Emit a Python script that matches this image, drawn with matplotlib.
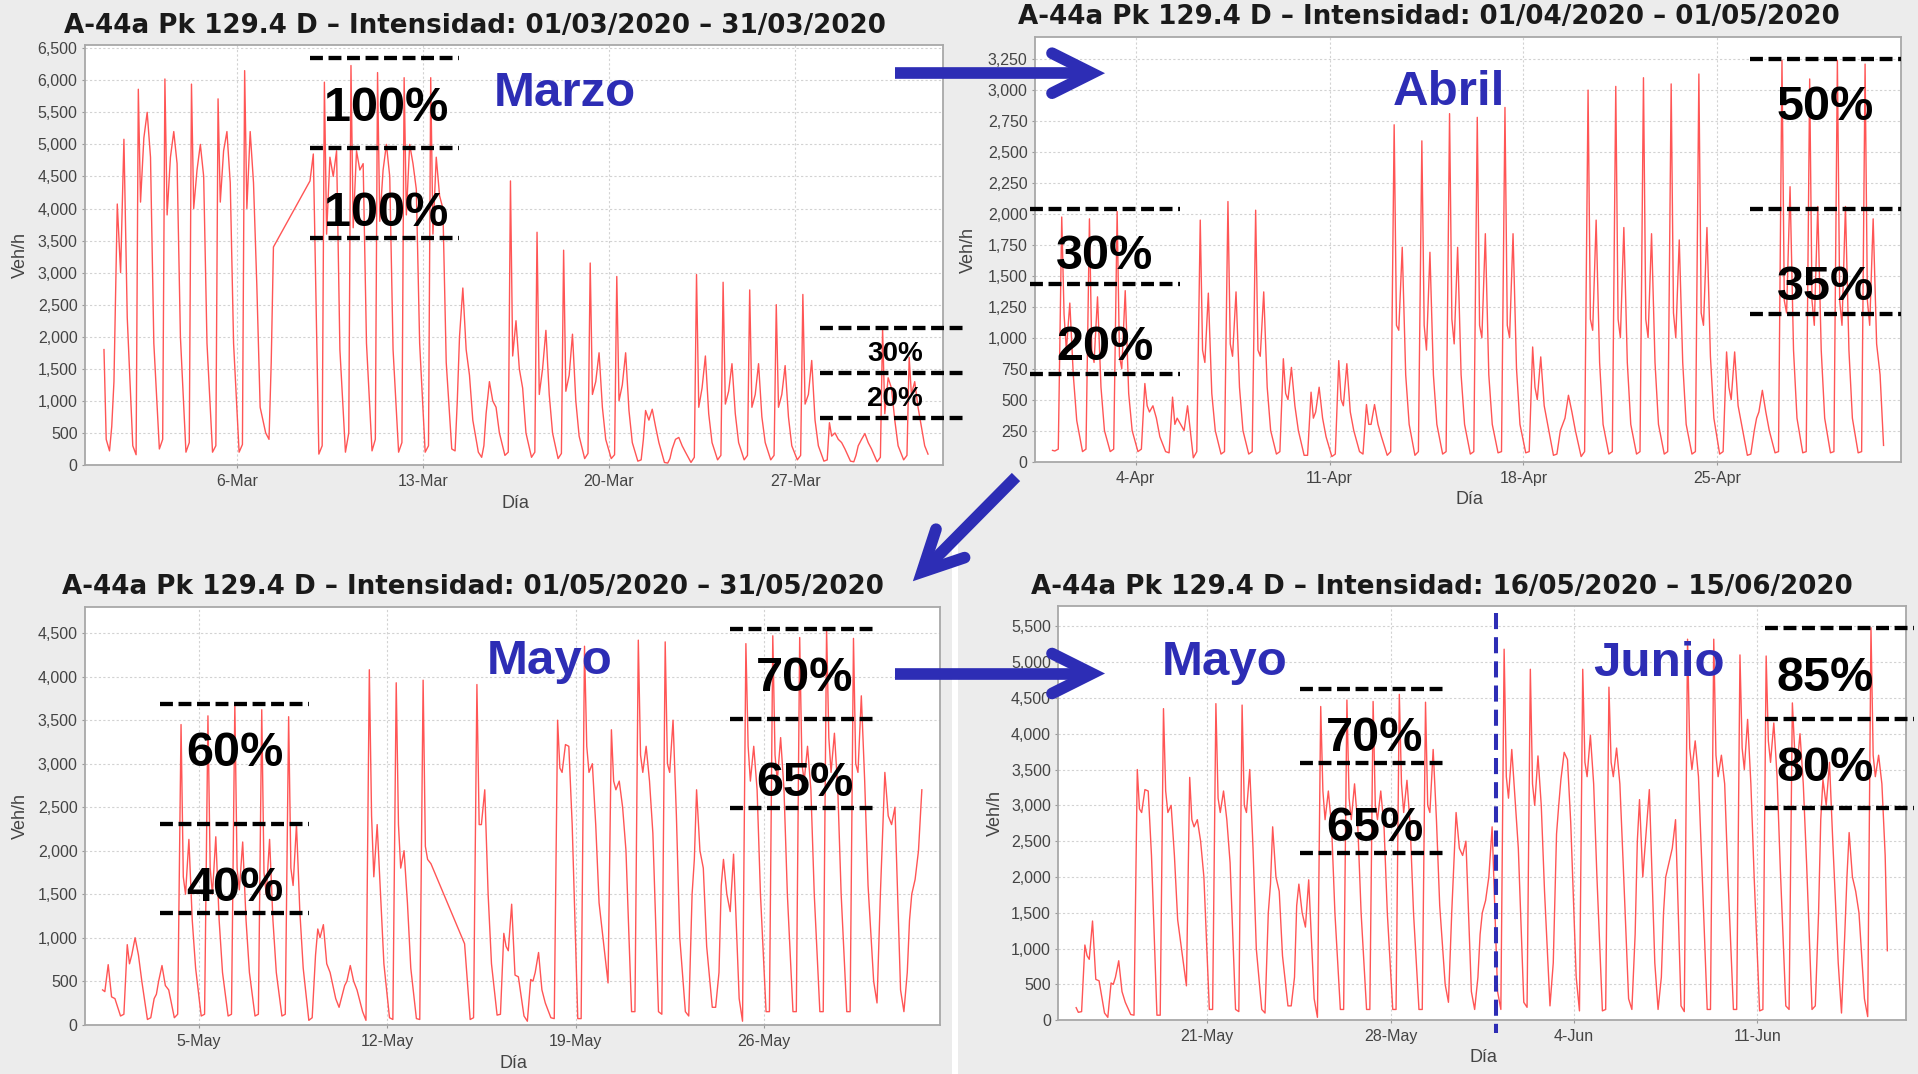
import datetime as dt
import matplotlib
matplotlib.use("Agg")
import matplotlib.pyplot as plt
import matplotlib.dates as mdates
from matplotlib.ticker import FuncFormatter, MultipleLocator
from matplotlib.patches import Rectangle

plt.rcParams['font.family'] = ['Liberation Sans', 'DejaVu Sans']

# ---------------- DATA (veh/h) ----------------
# hours of the day at which each daily row is sampled
HORAS_MAR = [2, 5, 7, 9, 12, 15, 18, 21]
HORAS = [2, 5, 8, 10, 12, 15, 18, 21]

marzo_ini = 1800          # 01/03 00:00
marzo_fin = 170           # 01/04 00:00
marzo = [
    [400, 220, 600, 1300, 4070, 3000, 5080, 2300],
    [300, 160, 5860, 4100, 5100, 5500, 4800, 1900],
    [250, 400, 6020, 3900, 4800, 5200, 4700, 2000],
    [200, 350, 5940, 4000, 4600, 5000, 4500, 1900],
    [200, 300, 5710, 4100, 4900, 5200, 4400, 1900],
    [200, 320, 6150, 4000, 5200, 4400, 2800, 900],
    [500, 400, 1600, 3400, None, None, None, None],
    [None, None, None, None, None, None, 4430, 4850],
    [170, 300, 5970, 3600, 4800, 4500, 4900, 1800],
    [200, 500, 6230, 3700, 4900, 4600, 4700, 1900],
    [220, 400, 6120, 3800, 4600, 5000, 4500, 1800],
    [200, 350, 6040, 3900, 5000, 4700, 4300, 1900],
    [200, 300, 6040, 3600, 4800, 4200, 4000, 1600],
    [250, 220, 1000, 2000, 2760, 1800, 1400, 700],
    [200, 120, 300, 800, 1300, 1000, 900, 500],
    [150, 200, 4430, 1700, 2250, 1500, 1200, 500],
    [120, 200, 3630, 1100, 1500, 2100, 1100, 500],
    [100, 180, 3350, 1150, 1400, 2040, 1000, 450],
    [100, 180, 3150, 1100, 1300, 1750, 900, 400],
    [100, 160, 2940, 1000, 1250, 1750, 850, 350],
    [60, 80, 400, 850, 700, 870, 600, 350],
    [40, 30, 100, 250, 400, 430, 300, 200],
    [40, 120, 2970, 900, 1200, 1700, 800, 350],
    [80, 150, 2850, 950, 1150, 1580, 800, 350],
    [80, 150, 2730, 900, 1100, 1580, 750, 350],
    [80, 150, 2500, 900, 1100, 1550, 750, 300],
    [80, 150, 2660, 950, 1100, 1630, 700, 300],
    [60, 80, 660, 450, 500, 400, 350, 250],
    [60, 50, 150, 300, 400, 490, 350, 250],
    [50, 120, 2120, 800, 1360, 1200, 700, 300],
    [80, 150, 1680, 1100, 1300, 900, 600, 300],
]

abril_ini = 90            # 01/04 00:00
abril_fin = 130           # 01/05 00:00
abril = [
    [85, 100, 1975, 1190, 900, 1280, 700, 330],
    [80, 100, 1960, 900, 800, 1330, 600, 250],
    [80, 100, 2020, 850, 750, 1380, 550, 250],
    [80, 100, 630, 450, 400, 450, 350, 200],
    [80, 70, 520, 300, 350, 300, 250, 450],
    [30, 80, 1950, 900, 800, 1360, 550, 250],
    [60, 80, 2100, 950, 850, 1370, 600, 250],
    [60, 80, 2030, 900, 850, 1370, 600, 250],
    [60, 80, 830, 550, 500, 760, 450, 250],
    [50, 50, 560, 350, 400, 600, 350, 200],
    [40, 60, 815, 500, 450, 790, 400, 250],
    [80, 60, 460, 300, 300, 460, 300, 200],
    [50, 80, 2720, 1100, 1060, 1730, 700, 300],
    [50, 80, 2590, 1100, 900, 1690, 700, 300],
    [60, 80, 2810, 1150, 950, 1730, 700, 300],
    [60, 80, 2780, 1100, 1000, 1840, 700, 300],
    [70, 80, 2860, 1100, 1000, 1840, 750, 300],
    [70, 80, 925, 600, 500, 845, 450, 300],
    [50, 60, 250, 300, 350, 535, 400, 250],
    [40, 80, 3000, 1150, 1060, 1950, 800, 300],
    [60, 80, 3030, 1150, 1000, 1890, 800, 300],
    [60, 80, 3100, 1150, 1000, 1840, 800, 300],
    [60, 80, 3050, 1200, 1000, 1790, 800, 300],
    [60, 80, 3130, 1200, 1100, 1890, 850, 350],
    [60, 80, 885, 600, 500, 885, 450, 300],
    [50, 60, 250, 350, 400, 575, 400, 250],
    [70, 80, 3240, 1300, 1200, 2220, 900, 350],
    [70, 80, 3090, 1300, 1100, 2060, 900, 350],
    [70, 80, 3240, 1300, 1100, 2060, 900, 350],
    [70, 80, 3210, 1300, 1100, 1960, 950, 700],
]

mayo = [
    [None, None, None, 400, 380, 690, 320, 300],
    [100, 120, 920, 700, 800, 1000, 800, 500],
    [60, 80, 300, 350, 500, 680, 450, 400],
    [80, 120, 3450, 1700, 1500, 2130, 1200, 650],
    [100, 120, 3550, 1800, 1500, 2160, 1200, 600],
    [100, 120, 3680, 1800, 1550, 2100, 1200, 600],
    [100, 120, 3620, 1750, 1500, 2130, 1200, 600],
    [100, 120, 3540, 1800, 1600, 2300, 1300, 650],
    [50, 80, 800, 1100, 1000, 1150, 700, 600],
    [300, 200, 350, 450, 500, 680, 500, 400],
    [150, 50, 4080, 2400, 1700, 2300, 1500, 700],
    [80, 60, 3930, 2300, 1800, 2000, 1400, 650],
    [70, 60, 3960, 2050, 1900, 1850, None, None],
    [None, None, None, None, None, None, None, 930],
    [60, 80, 3910, 2300, 2300, 2700, 1500, 700],
    [110, 120, 1050, 900, 850, 1385, 570, 550],
    [100, 40, 520, 500, 600, 830, 400, 250],
    [80, 70, 3500, 2950, 2900, 3220, 3200, 2300],
    [70, 70, 4350, 3200, 2900, 3000, 2300, 1400],
    [None, 480, 3390, 2800, 2700, 2800, 2500, 2000],
    [150, 150, 4420, 3100, 2900, 3200, 2800, 2200],
    [150, 120, 4400, 3000, 2900, 3500, 2400, 1000],
    [150, 100, 1500, 1900, 2700, 2000, 1800, 900],
    [200, 200, 600, 1600, 1900, 1500, 1300, 1960],
    [300, 40, 4380, 3200, 2800, 3200, 2700, 1500],
    [150, 150, 4470, 3100, 2800, 3300, 2700, 1500],
    [150, 150, 4450, 3000, 2800, 3200, 2700, 1500],
    [150, 150, 4550, 3300, 2900, 3350, 2700, 1500],
    [150, 150, 4440, 3000, 2900, 3780, 2800, 1600],
    [500, 250, 1500, 2200, 2900, 2400, 2300, 2500],
    [400, 150, 600, 1200, 1500, 1670, 2000, 2700],
]

mayo16_ini = 175          # 16/05 00:00 (last panel)
junio_fin = 970           # 15/06 23:00
junio = [
    [400, 150, 5180, 3400, 3100, 3780, 3100, 2400],
    [250, 180, 4900, 3300, 3000, 3690, 3000, 1800],
    [200, 800, 2600, 3000, 3360, 3740, 3640, 2760],
    [600, 130, 4900, 3600, 3400, 3980, 3300, 2000],
    [130, 150, 4650, 3600, 3400, 3800, 3300, 2200],
    [300, 150, 1200, 2500, 3080, 2000, 2600, 3220],
    [800, 150, 600, 1500, 2000, 2200, 2400, 2800],
    [200, 120, 5320, 3800, 3500, 3900, 3400, 2200],
    [150, 150, 5320, 3700, 3400, 3700, 3300, 2000],
    [150, 150, 5100, 3800, 3500, 4200, 3300, 2000],
    [130, 150, 5085, 3900, 3600, 4150, 3400, 2100],
    [200, 150, 4430, 3800, 3500, 4000, 3300, 2200],
    [150, 200, 1500, 2800, 3360, 3000, 3600, 2500],
    [800, 100, 1200, 2000, 2620, 2000, 1800, 1500],
    [300, 50, 5480, 3700, 3400, 3700, 3300, 2300],
]

titulos = [
    "A-44a Pk 129.4 D \u2013 Intensidad: 01/03/2020 \u2013 31/03/2020",
    "A-44a Pk 129.4 D \u2013 Intensidad: 01/04/2020 \u2013 01/05/2020",
    "A-44a Pk 129.4 D \u2013 Intensidad: 01/05/2020 \u2013 31/05/2020",
    "A-44a Pk 129.4 D \u2013 Intensidad: 16/05/2020 \u2013 15/06/2020",
]
ticks_mar = [dt.datetime(2020, 3, d) for d in (6, 13, 20, 27)]
ticks_abr = [dt.datetime(2020, 4, d) for d in (4, 11, 18, 25)]
ticks_may = [dt.datetime(2020, 5, d) for d in (5, 12, 19, 26)]
ticks_jun = [dt.datetime(2020, 5, 21), dt.datetime(2020, 5, 28),
             dt.datetime(2020, 6, 4), dt.datetime(2020, 6, 11)]


def series(start, rows, hours, ini=None, fin=None):
    xs, ys = [], []
    if ini is not None:
        xs.append(start)
        ys.append(ini)
    for d, row in enumerate(rows):
        for h, v in zip(hours, row):
            if v is not None:
                xs.append(start + dt.timedelta(days=d, hours=h))
                ys.append(v)
    if fin is not None:
        xs.append(start + dt.timedelta(hours=fin[0]))
        ys.append(fin[1])
    return xs, ys


# ---------------- FIGURE ----------------
W, H = 1918, 1074
fig = plt.figure(figsize=(W / 100, H / 100), dpi=100)
fig.patch.set_facecolor('#ececec')

# white separator between the two lower screenshots
fig.add_artist(Rectangle((952 / W, 0), 6 / W, 534 / H, transform=fig.transFigure,
                         facecolor='white', edgecolor='none', zorder=-5))

RED = '#ff5555'
BLUE = '#2d2db5'
TXT = '#444444'

panels = [
    dict(box=(84.5, 44.8, 943, 465), start=dt.datetime(2020, 3, 1),
         data=series(dt.datetime(2020, 3, 1), marzo, HORAS_MAR, marzo_ini, (31 * 24, marzo_fin)),
         xl=(-0.733, 31.564), ymax=6553, ystep=500, ticks=ticks_mar),
    dict(box=(1034.5, 37, 1901, 461.5), start=dt.datetime(2020, 4, 1),
         data=series(dt.datetime(2020, 4, 1), abril, HORAS, abril_ini, (30 * 24, abril_fin)),
         xl=(-0.65, 30.63), ymax=3429, ystep=250, ticks=ticks_abr),
    dict(box=(84.5, 607, 940, 1024.7), start=dt.datetime(2020, 5, 1),
         data=series(dt.datetime(2020, 5, 1), mayo, HORAS),
         xl=(-0.256, 31.55), ymax=4801, ystep=500, ticks=ticks_may),
    dict(box=(1057.8, 606.3, 1906, 1020.2), start=dt.datetime(2020, 5, 16),
         data=series(dt.datetime(2020, 5, 16), mayo[15:] + junio, HORAS, mayo16_ini,
                     (30 * 24 + 23, junio_fin)),
         xl=(-0.70, 31.67), ymax=5779, ystep=500, ticks=ticks_jun),
]

for p in panels:
    x0, y0, x1, y1 = p['box']
    ax = fig.add_axes([x0 / W, 1 - y1 / H, (x1 - x0) / W, (y1 - y0) / H])
    ax.set_facecolor('white')
    xs, ys = p['data']
    ax.plot(xs, ys, color=RED, lw=1.0)
    s = p['start']
    ax.set_xlim(s + dt.timedelta(days=p['xl'][0]), s + dt.timedelta(days=p['xl'][1]))
    ax.set_ylim(0, p['ymax'])
    ax.yaxis.set_major_locator(MultipleLocator(p['ystep']))
    ax.yaxis.set_major_formatter(FuncFormatter(lambda v, pos: f"{int(round(v)):,}"))
    ax.set_xticks(p['ticks'])
    ax.xaxis.set_major_formatter(mdates.DateFormatter('%-d-%b'))
    ax.grid(True, color='#d2d2d2', lw=0.8, linestyle=(0, (2, 2)))
    ax.set_axisbelow(True)
    for sp in ax.spines.values():
        sp.set_color('#a8a8a8')
        sp.set_linewidth(1.3)
    ax.tick_params(axis='both', labelsize=11.5, labelcolor=TXT, color='#999999',
                   length=2.5, width=0.8)
    ax.tick_params(axis='y', pad=2.5)
    ax.tick_params(axis='x', pad=4)

# ---------------- OVERLAY (titles, labels, annotations) ----------------
ov = fig.add_axes([0, 0, 1, 1])
ov.set_xlim(0, W)
ov.set_ylim(H, 0)
ov.axis('off')
ov.patch.set_alpha(0)
ov.set_zorder(10)

title_pos = [(474.6, 32.7), (1428.6, 24.5), (473, 594.3), (1441.8, 594.3)]
for t, (tx, ty) in zip(titulos, title_pos):
    ov.text(tx, ty, t, ha='center', va='baseline', fontsize=18.8, fontweight='bold',
            family=['DejaVu Sans'], color='#1a1a1a')

for (vx, vy) in [(20, 255), (968, 250), (20, 816), (995, 813)]:
    ov.text(vx, vy, 'Veh/h', rotation=90, ha='center', va='center', fontsize=13, color=TXT)
for (dx, dy) in [(515, 503), (1469, 499), (513, 1063), (1483, 1057)]:
    ov.text(dx, dy, 'Día', ha='center', va='center', fontsize=13, color=TXT)

DASH = dict(color='black', lw=3.1, linestyle=(0, (3.0, 1.3)), dash_capstyle='butt')


def hlines(x0, x1, ys):
    for y in ys:
        ov.plot([x0, x1], [y, y], **DASH)


hlines(310, 459, [58.3, 148.3, 238])
hlines(820, 966, [328.3, 373.3, 418.3])
hlines(1030, 1180, [208.7, 283.7, 373.7])
hlines(1750, 1901, [58.7, 208.7, 313.7])
hlines(160, 309, [703.7, 823.7, 912.7])
hlines(730, 878, [628.7, 718.7, 807.7])
hlines(1300, 1448, [688.7, 762.7, 853.3])
hlines(1765, 1914, [627.7, 718.7, 807.7])

BIG = 35


def pct(x, y, s, size=BIG, color='black'):
    ov.text(x, y, s, ha='center', va='baseline', fontsize=size, fontweight='bold', color=color)


pct(386.5, 120.7, '100%')
pct(386.5, 225.7, '100%')
pct(894.8, 360.7, '30%', size=20)
pct(894.8, 405.7, '20%', size=20)
pct(1105, 268.7, '30%')
pct(1105, 360.3, '20%')
pct(1825.3, 120.3, '50%')
pct(1825.3, 300.3, '35%')
pct(235, 766, '60%')
pct(235, 901, '40%')
pct(805, 691, '70%')
pct(805, 796, '65%')
pct(1375, 751, '70%')
pct(1375, 841, '65%')
pct(1825, 691, '85%')
pct(1825, 781, '80%')

pct(565, 105.7, 'Marzo', size=35.5, color=BLUE)
pct(1448.7, 105.3, 'Abril', size=35.5, color=BLUE)
pct(549.8, 674.3, 'Mayo', size=35.5, color=BLUE)
pct(1225, 675.3, 'Mayo', size=35.5, color=BLUE)
pct(1659, 676, 'Junio', size=35.5, color=BLUE)

# blue dashed separator (1 June)
ov.plot([1495.7, 1495.7], [613, 1033], color=BLUE, lw=2.9, linestyle=(0, (4, 2)))

# blue arrows
ALW = 8.4
for yc in (73.2, 673.5):
    ov.plot([895, 1088], [yc, yc], color=BLUE, lw=ALW, solid_capstyle='butt')
    ov.plot([1052, 1092, 1052], [yc - 20, yc, yc + 20], color=BLUE, lw=ALW,
            solid_capstyle='round', solid_joinstyle='miter')
ov.plot([1016, 924], [477, 570], color=BLUE, lw=ALW, solid_capstyle='butt')
ov.plot([964.6, 922, 936], [557.6, 572, 529.2], color=BLUE, lw=ALW,
        solid_capstyle='round', solid_joinstyle='miter')

fig.savefig('out.png', dpi=100, facecolor=fig.get_facecolor())
